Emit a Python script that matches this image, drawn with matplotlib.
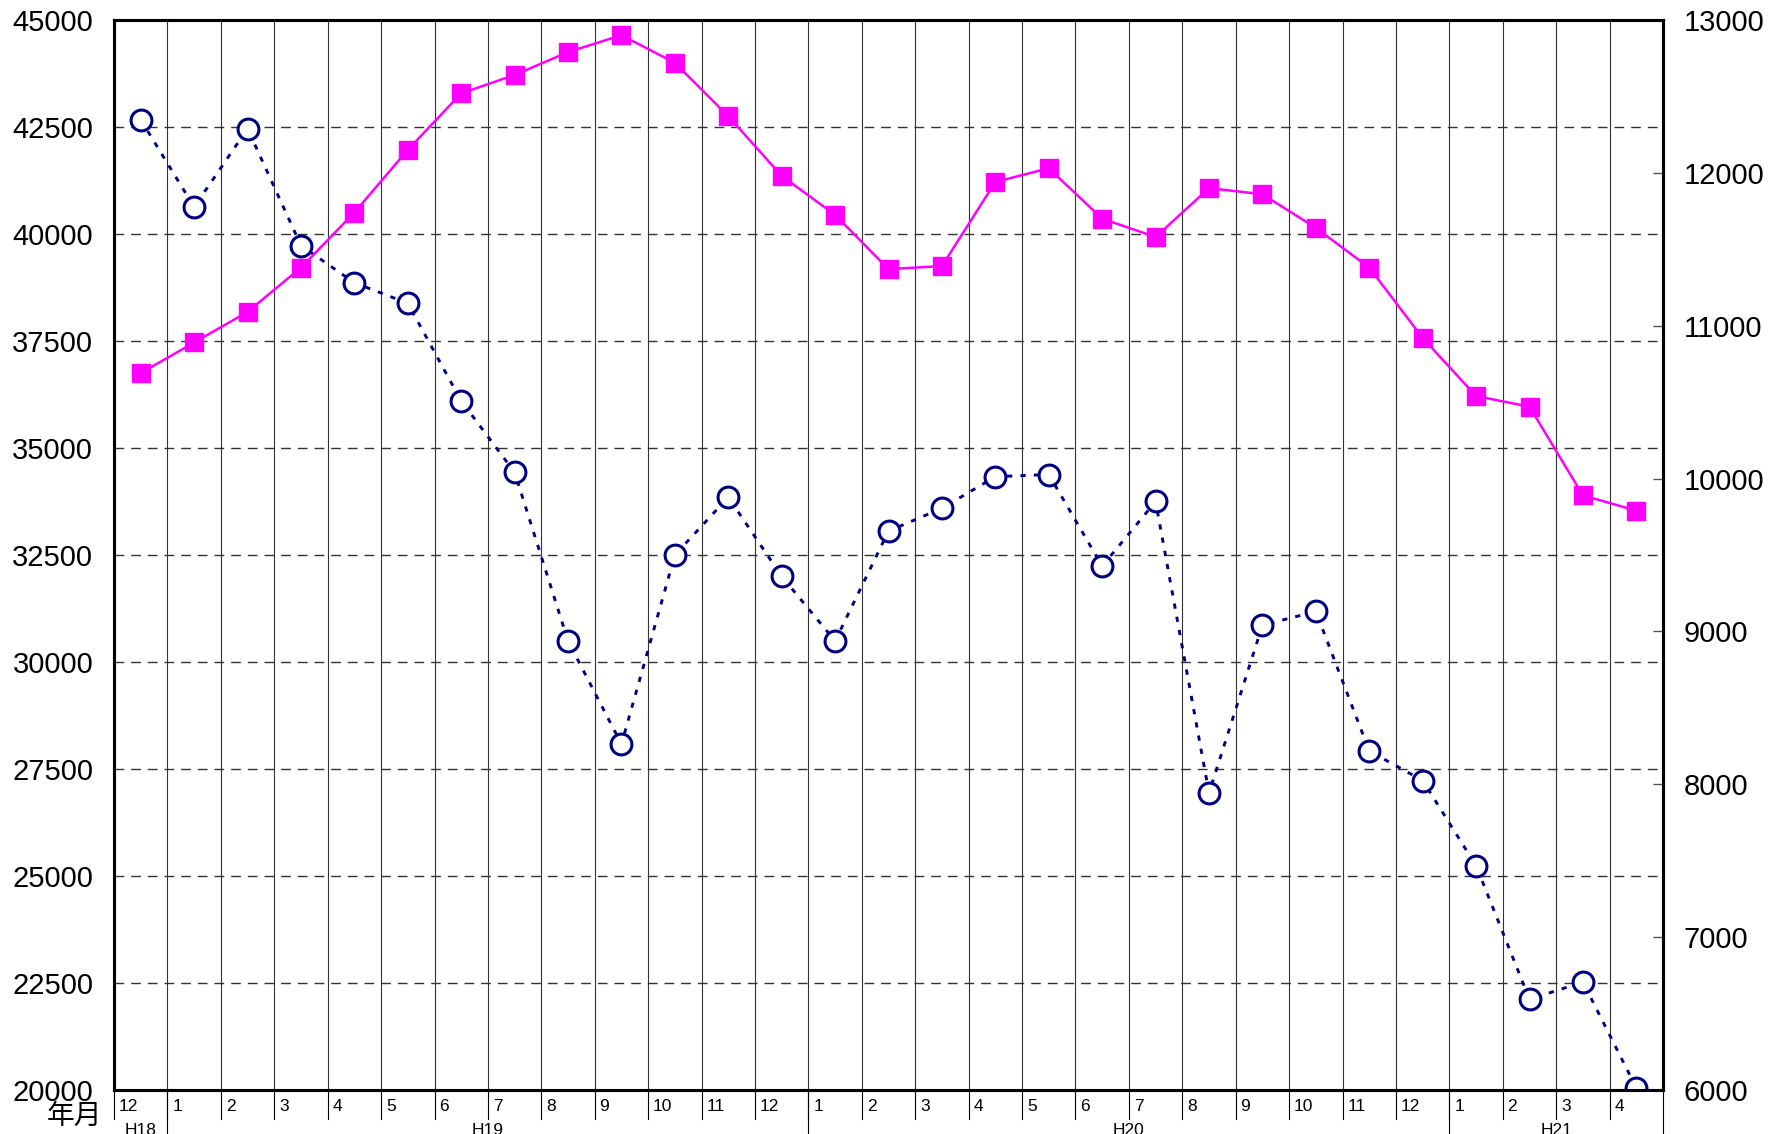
import matplotlib
matplotlib.use('Agg')
import matplotlib.pyplot as plt
import numpy as np

plt.rcParams['font.family'] = ['Liberation Sans Narrow', 'Liberation Sans', 'Noto Sans CJK JP', 'DejaVu Sans']

# ---- data ----
months = ['12', '1', '2', '3', '4', '5', '6', '7', '8', '9', '10', '11', '12',
          '1', '2', '3', '4', '5', '6', '7', '8', '9', '10', '11', '12',
          '1', '2', '3', '4']
era_labels = ['H18', 'H19', 'H20', 'H21']
era_counts = [1, 12, 12, 4]

circle_values = [42670, 40630, 42460, 39730, 38860, 38380, 36100, 34430, 30490, 28080,
                 32500, 33850, 32000, 30490, 33060, 33590, 34330, 34380, 32240, 33750,
                 26940, 30860, 31180, 27920, 27230, 25240, 22120, 22520, 20050]
square_values = [10690, 10890, 11090, 11380, 11740, 12150, 12520, 12640, 12790, 12900,
                 12720, 12370, 11980, 11725, 11370, 11390, 11940, 12030, 11700, 11580,
                 11900, 11860, 11640, 11380, 10920, 10540, 10470, 9890, 9790]

left_ticks = list(range(20000, 45001, 2500))
right_ticks = list(range(6000, 13001, 1000))

# ---- figure ----
fig = plt.figure(figsize=(17.76, 11.34), dpi=100)
ax = fig.add_axes([0.0642, 0.0388, 0.8722, 0.9436])
x = np.arange(len(months))
ax.set_xlim(-0.5, len(months) - 0.5)
ax.set_ylim(left_ticks[0], left_ticks[-1])
ax.set_yticks(left_ticks)
ax.set_xticks([])

for yv in left_ticks[1:-1]:
    ax.axhline(yv, color='#333333', lw=1.0, ls=(0, (7, 5)), zorder=1)
for b in np.arange(0.5, len(months) - 0.5, 1):
    ax.axvline(b, color='#333333', lw=0.8, zorder=1)

ax.plot(x, circle_values, ls=(0, (1.8, 2.8)), color='#000080', lw=2.1, marker='o',
        ms=15, mfc='white', mec='#000080', mew=2.2, zorder=3)

ax2 = ax.twinx()
ax2.set_ylim(right_ticks[0], right_ticks[-1])
ax2.set_yticks(right_ticks)
ax2.plot(x, square_values, color='#FF00FF', lw=1.8, marker='s', ms=12.5, zorder=3)

for a in (ax, ax2):
    for s in a.spines.values():
        s.set_linewidth(2.2)
        s.set_color('black')

ax.tick_params(axis='y', direction='in', length=0, pad=15, labelsize=21)
ax2.tick_params(axis='y', direction='in', length=7, width=1, color='#555555', pad=15, labelsize=21)

# ---- bottom category labels ----
trans = ax.get_xaxis_transform()
for i, m in enumerate(months):
    ax.text(i - 0.5 + 0.09, -0.008, m, transform=trans, ha='left', va='top', fontsize=12.5)
    ax.plot([i - 0.5, i - 0.5], [0, -0.027], transform=trans, clip_on=False, color='black', lw=0.8)

starts = np.concatenate([[0], np.cumsum(era_counts)[:-1]])
for lab, st, cnt in zip(era_labels, starts, era_counts):
    center = st + (cnt - 1) / 2
    ax.text(center, -0.031, lab, transform=trans, ha='center', va='top', fontsize=12.5)
    if st > 0:
        ax.plot([st - 0.5, st - 0.5], [0, -0.06], transform=trans, clip_on=False, color='black', lw=0.8)
ax.plot([len(months) - 0.5] * 2, [0, -0.06], transform=trans, clip_on=False, color='black', lw=0.8)

fig.text(102 / 1776, 1 - 1116 / 1134, '年月', ha='right', va='center', fontsize=20,
         family=['Noto Sans CJK JP', 'DejaVu Sans'])

fig.savefig('out.png', dpi=100)
